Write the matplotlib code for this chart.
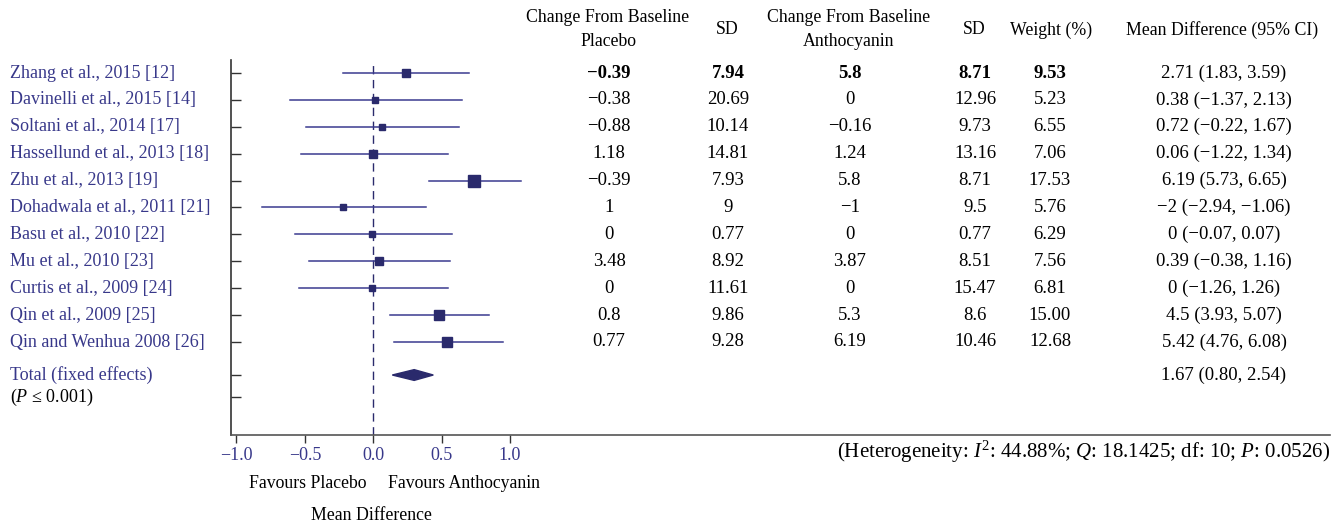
import matplotlib
matplotlib.use("Agg")
import matplotlib.pyplot as plt
import numpy as np

plt.rcParams['font.family'] = ['Liberation Serif', 'DejaVu Serif']
plt.rcParams['mathtext.fontset'] = 'custom'
plt.rcParams['mathtext.rm'] = 'Liberation Serif'
plt.rcParams['mathtext.it'] = 'Liberation Serif:italic'

studies = ["Zhang et al., 2015 [12]", "Davinelli et al., 2015 [14]", "Soltani et al., 2014 [17]",
           "Hassellund et al., 2013 [18]", "Zhu et al., 2013 [19]", "Dohadwala et al., 2011 [21]",
           "Basu et al., 2010 [22]", "Mu et al., 2010 [23]", "Curtis et al., 2009 [24]",
           "Qin et al., 2009 [25]", "Qin and Wenhua 2008 [26]"]
placebo_change = ["−0.39", "−0.38", "−0.88", "1.18", "−0.39", "1", "0", "3.48", "0", "0.8", "0.77"]
placebo_sd = ["7.94", "20.69", "10.14", "14.81", "7.93", "9", "0.77", "8.92", "11.61", "9.86", "9.28"]
antho_change = ["5.8", "0", "−0.16", "1.24", "5.8", "−1", "0", "3.87", "0", "5.3", "6.19"]
antho_sd = ["8.71", "12.96", "9.73", "13.16", "8.71", "9.5", "0.77", "8.51", "15.47", "8.6", "10.46"]
weights = [9.53, 5.23, 6.55, 7.06, 17.53, 5.76, 6.29, 7.56, 6.81, 15.00, 12.68]
weight_labels = ["9.53", "5.23", "6.55", "7.06", "17.53", "5.76", "6.29", "7.56", "6.81", "15.00", "12.68"]
md_ci_text = ["2.71 (1.83, 3.59)", "0.38 (−1.37, 2.13)", "0.72 (−0.22, 1.67)", "0.06 (−1.22, 1.34)",
              "6.19 (5.73, 6.65)", "−2 (−2.94, −1.06)", "0 (−0.07, 0.07)", "0.39 (−0.38, 1.16)",
              "0 (−1.26, 1.26)", "4.5 (3.93, 5.07)", "5.42 (4.76, 6.08)"]
# plotted (standardised) effect estimates
effect = [0.24, 0.016, 0.066, 0.0, 0.74, -0.22, -0.008, 0.045, -0.008, 0.48, 0.54]
ci_low = [-0.22, -0.61, -0.49, -0.53, 0.41, -0.81, -0.57, -0.47, -0.54, 0.12, 0.15]
ci_high = [0.70, 0.65, 0.63, 0.55, 1.08, 0.39, 0.58, 0.56, 0.55, 0.85, 0.95]
total_effect = 0.30
total_low = 0.14
total_high = 0.44
total_text = "1.67 (0.80, 2.54)"
xticks = [-1.0, -0.5, 0.0, 0.5, 1.0]
xtick_labels = ["−1.0", "−0.5", "0.0", "0.5", "1.0"]

W, H = 1334, 525
fig = plt.figure(figsize=(W / 100, H / 100), dpi=100)
ax = fig.add_axes([231 / W, 1 - 435 / H, (1330 - 231) / W, (435 - 60) / H])

navy = '#2a2a6c'
line_c = '#3b3b90'
label_c = '#38388a'

n = len(studies)
rows = np.arange(n)
total_row = 11.23
p_row = 12.04

ax.set_xlim(-1.04, 7.0)
ax.set_ylim(13.46, -0.48)

for i in range(n):
    ax.plot([ci_low[i], ci_high[i]], [rows[i], rows[i]], color=line_c, lw=1.1, zorder=2)
    ax.plot(effect[i], rows[i], marker='s', ms=1.9 * np.sqrt(weights[i]), color=navy,
            mec=navy, zorder=3)

dh = 0.2
ax.fill([total_low, total_effect, total_high, total_effect],
        [total_row, total_row - dh, total_row, total_row + dh], color=navy, zorder=3)

ax.axvline(0, color=navy, lw=1.0, ls=(0, (6, 4)), zorder=1)

ax.spines['top'].set_visible(False)
ax.spines['right'].set_visible(False)
ax.spines['left'].set_color('#333333')
ax.spines['bottom'].set_color('#555555')
ax.spines['left'].set_linewidth(1.2)
ax.spines['bottom'].set_linewidth(1.2)

ax.set_yticks(list(rows) + [total_row, p_row])
ax.set_yticklabels([])
ax.tick_params(axis='y', direction='in', length=7, width=1.0, color='#333333')
ax.set_xticks(xticks)
ax.set_xticklabels(xtick_labels, color=label_c, fontsize=13)
ax.tick_params(axis='x', direction='out', length=6, width=1.0, color='#333333', pad=3)

fs = 13
vfs = 13.5
def fx(px):
    return px / W
def fy(py):
    return 1 - py / H

row_px = [73 + 26.9 * r for r in rows]
for i in range(n):
    y = fy(row_px[i])
    fig.text(fx(10), y, studies[i], color=label_c, fontsize=fs, va='center', ha='left')
    wt = 'bold' if i == 0 else 'normal'
    fig.text(fx(609), y, placebo_change[i], fontsize=vfs, ha='center', va='center', weight=wt)
    fig.text(fx(728), y, placebo_sd[i], fontsize=vfs, ha='center', va='center', weight=wt)
    fig.text(fx(850), y, antho_change[i], fontsize=vfs, ha='center', va='center', weight=wt)
    fig.text(fx(975), y, antho_sd[i], fontsize=vfs, ha='center', va='center', weight=wt)
    fig.text(fx(1050), y, weight_labels[i], fontsize=vfs, ha='center', va='center', weight=wt)
    fig.text(fx(1224), y, md_ci_text[i], fontsize=vfs, ha='center', va='center')

fig.text(fx(10), fy(375), "Total (fixed effects)", color=label_c, fontsize=fs, va='center')
fig.text(fx(10), fy(397), "($P$ ≤ 0.001)", fontsize=fs, va='center')
fig.text(fx(1224), fy(375), total_text, fontsize=vfs, ha='center', va='center')

hfs = 12.8
fig.text(fx(608), fy(18), "Change From Baseline", fontsize=hfs, ha='center', va='center')
fig.text(fx(608), fy(42), "Placebo", fontsize=hfs, ha='center', va='center')
fig.text(fx(727), fy(30), "SD", fontsize=hfs, ha='center', va='center')
fig.text(fx(849), fy(18), "Change From Baseline", fontsize=hfs, ha='center', va='center')
fig.text(fx(849), fy(42), "Anthocyanin", fontsize=hfs, ha='center', va='center')
fig.text(fx(974), fy(30), "SD", fontsize=hfs, ha='center', va='center')
fig.text(fx(1051), fy(30), "Weight (%)", fontsize=hfs, ha='center', va='center')
fig.text(fx(1222), fy(30), "Mean Difference (95% CI)", fontsize=hfs, ha='center', va='center')

fig.text(fx(1330), fy(452), "(Heterogeneity: $I^2$: 44.88%; $Q$: 18.1425; df: 10; $P$: 0.0526)",
         fontsize=15, ha='right', va='center')
fig.text(fx(308), fy(483), "Favours Placebo", fontsize=hfs, ha='center', va='center')
fig.text(fx(464), fy(483), "Favours Anthocyanin", fontsize=hfs, ha='center', va='center')
fig.text(fx(371), fy(515), "Mean Difference", fontsize=hfs, ha='center', va='center')

fig.savefig("out.png", dpi=100)
